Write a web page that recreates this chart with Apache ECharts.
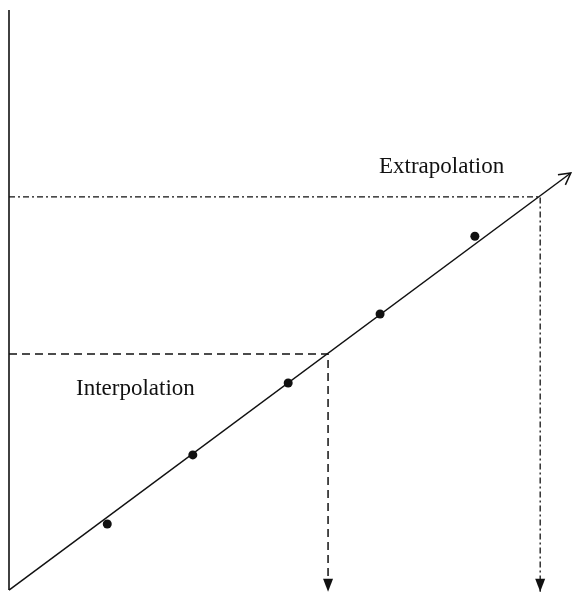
<!DOCTYPE html>
<html><head><meta charset="utf-8">
<script src="https://cdn.jsdelivr.net/npm/echarts@6/dist/echarts.min.js"></script>
<style>html,body{margin:0;padding:0;background:#fff}#c{width:587px;height:593px}</style>
</head><body><div id="c"></div>
<script>
// Observed points
const pointX = [1.70, 3.18, 4.83, 6.42, 8.06];
const pointY = [1.14, 2.33, 3.57, 4.76, 6.10];
// Fitted line from origin to arrow tip
const fitLineX = [0, 9.72];
const fitLineY = [0, 7.19];
// Interpolation and extrapolation reading
const interpPoint = [5.52, 4.07];
const extrapPoint = [9.19, 6.78];
const arrowBase = -0.03;
const axisTop = 10;
const labels = ['Interpolation', 'Extrapolation'];

const ink = '#111';
const chart = echarts.init(document.getElementById('c'));
chart.setOption({
  animation: false,
  backgroundColor: '#fff',
  grid: {left: 9, right: 0, top: 10, bottom: 0},
  xAxis: {type: 'value', min: 0, max: 10, show: false},
  yAxis: {type: 'value', min: -0.05, max: 10, show: false},
  series: [
    {type: 'line', data: [[0, 0], [0, axisTop]], symbol: 'none', lineStyle: {color: ink, width: 1.6}},
    {type: 'line', data: fitLineX.map((x, i) => [x, fitLineY[i]]), symbol: 'none', lineStyle: {color: ink, width: 1.5}},
    {type: 'line', data: [[0, interpPoint[1]], interpPoint, [interpPoint[0], arrowBase]], symbol: 'none',
      lineStyle: {color: ink, width: 1.5, type: [8, 5]}},
    {type: 'line', data: [[0, extrapPoint[1]], extrapPoint, [extrapPoint[0], arrowBase]], symbol: 'none',
      lineStyle: {color: ink, width: 1.3, type: [6, 3, 2, 3]}},
    {type: 'scatter', data: pointX.map((x, i) => [x, pointY[i]]), symbolSize: 9, itemStyle: {color: ink, opacity: 1}},
    {type: 'custom', data: [[interpPoint[0], arrowBase], [extrapPoint[0], arrowBase]],
      renderItem: function (params, api) {
        const p = api.coord([api.value(0), api.value(1)]);
        return {type: 'polygon', shape: {points: [[p[0], p[1]], [p[0] - 5, p[1] - 13], [p[0] + 5, p[1] - 13]]},
          style: {fill: ink}};
      }},
    {type: 'custom', data: [[fitLineX[0], fitLineY[0], fitLineX[1], fitLineY[1]]],
      renderItem: function (params, api) {
        const a = api.coord([api.value(0), api.value(1)]);
        const b = api.coord([api.value(2), api.value(3)]);
        const ang = Math.atan2(b[1] - a[1], b[0] - a[0]);
        const L = 13, s = 0.5;
        const p1 = [b[0] - L * Math.cos(ang - s), b[1] - L * Math.sin(ang - s)];
        const p2 = [b[0] - L * Math.cos(ang + s), b[1] - L * Math.sin(ang + s)];
        return {type: 'polyline', shape: {points: [p1, b, p2]}, style: {stroke: ink, lineWidth: 1.5, fill: null}};
      }}
  ],
  graphic: [
    {type: 'text', left: 76, top: 377, style: {text: labels[0], font: '23px "Liberation Serif"', fill: ink}},
    {type: 'text', left: 379, top: 155, style: {text: labels[1], font: '23px "Liberation Serif"', fill: ink}}
  ]
});
</script></body></html>
